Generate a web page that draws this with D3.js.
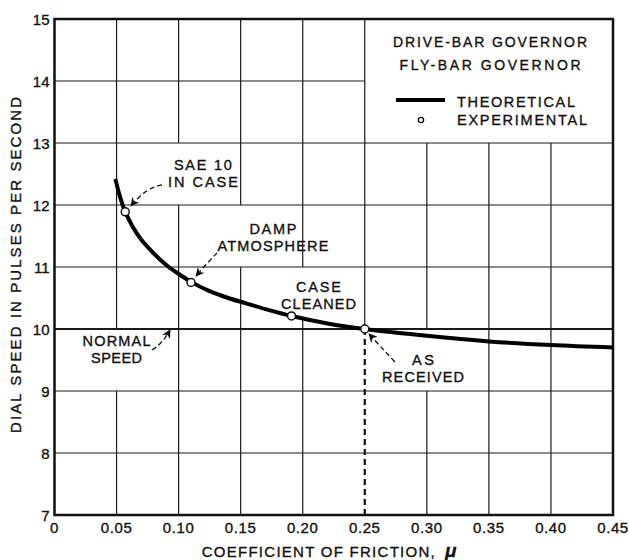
<!DOCTYPE html>
<html>
<head>
<meta charset="utf-8">
<script src="https://cdn.jsdelivr.net/npm/d3@7"></script>
<style>
  html, body { margin: 0; padding: 0; background: #fff; }
  svg { display: block; }
  text { font-family: "Liberation Sans", Arial, sans-serif; fill: #111; stroke: #111; stroke-width: 0.35px; }
</style>
</head>
<body>
<svg id="chart" width="629" height="560"></svg>
<script>
// ---------------- DATA ----------------
const xTickValues = [0, 0.05, 0.10, 0.15, 0.20, 0.25, 0.30, 0.35, 0.40, 0.45];
const xTickLabels = ["0", "0.05", "0.10", "0.15", "0.20", "0.25", "0.30", "0.35", "0.40", "0.45"];
const yTickValues = [7, 8, 9, 10, 11, 12, 13, 14, 15];
const yTickLabels = ["7", "8", "9", "10", "11", "12", "13", "14", "15"];

// Theoretical curve
const muTheory    = [0.049, 0.053, 0.057, 0.063, 0.070, 0.078, 0.085, 0.092, 0.100, 0.110, 0.125, 0.140, 0.155, 0.170, 0.191, 0.220, 0.250, 0.300, 0.350, 0.400, 0.450];
const speedTheory = [12.42, 12.12, 11.89, 11.65, 11.44, 11.26, 11.12, 11.00, 10.89, 10.76, 10.61, 10.50, 10.41, 10.32, 10.21, 10.09, 10.00, 9.89, 9.80, 9.74, 9.70];

// Experimental points
const muExp    = [0.057, 0.110, 0.191, 0.250];
const speedExp = [11.89, 10.75, 10.21, 10.00];

const normalSpeed = 10;
const asReceivedMu = 0.25;

const xTitle = "COEFFICIENT OF FRICTION,";
const xTitleSymbol = "\u03BC";
const yTitle = "DIAL SPEED IN PULSES PER SECOND";
const legendTitles = ["DRIVE-BAR GOVERNOR", "FLY-BAR GOVERNOR"];
const legendSeries = ["THEORETICAL", "EXPERIMENTAL"];

// Annotations (label lines, anchor in data units, arrow from/ctrl/to in data units)
const annotations = [
  { lines: ["SAE 10", "IN CASE"], widths: [58, 70], x: 0.1196, y: 12.565,
    arrow: [[0.0866, 12.323], [0.0729, 12.274], [0.0616, 11.984]] },
  { lines: ["DAMP", "ATMOSPHERE"], widths: [47, 111], x: 0.176, y: 11.532,
    arrow: [[0.1309, 11.226], [0.1237, 11.08], [0.1140, 10.855]] },
  { lines: ["CASE", "CLEANED"], widths: [45, 75], x: 0.2127, y: 10.597,
    arrow: null },
  { lines: ["NORMAL", "SPEED"], widths: [68, 51], x: 0.050, y: 9.726,
    arrow: [[0.0786, 9.661], [0.0874, 9.774], [0.0930, 9.984]] },
  { lines: ["AS", "RECEIVED"], widths: [22, 82], x: 0.2969, y: 9.419,
    arrow: [[0.2743, 9.468], [0.2623, 9.726], [0.2534, 9.919]] }
];

// Grid segments erased by the draughtsman (data units)
const vGaps = [
  { x: 0.05, from: 9, to: 10 },
  { x: 0.10, from: 12, to: 13 },
  { x: 0.15, from: 11, to: 12 },
  { x: 0.20, from: 10.15, to: 11 },
  { x: 0.25, from: 7, to: 10 },   // replaced by dashed line
  { x: 0.30, from: 9, to: 10 },
  { x: 0.30, from: 13, to: 15 },
  { x: 0.35, from: 13, to: 15 },
  { x: 0.40, from: 13, to: 15 }
];
const hGaps = [
  { y: 14, from: 0.25, to: 0.45 }
];

// ---------------- LAYOUT ----------------
const svg = d3.select("#chart");
const margin = { left: 54.5, top: 19, right: 16, bottom: 45 };
const W = 629, H = 560;
const x = d3.scaleLinear().domain([0, 0.45]).range([margin.left, W - margin.right]);
const y = d3.scaleLinear().domain([7, 15]).range([H - margin.bottom, margin.top]);

svg.append("rect").attr("width", W).attr("height", H).attr("fill", "#fff");

function subtract(lo, hi, gaps) {
  let segs = [[lo, hi]];
  gaps.forEach(g => {
    const out = [];
    segs.forEach(([a, b]) => {
      if (g.to <= a || g.from >= b) { out.push([a, b]); return; }
      if (g.from > a) out.push([a, g.from]);
      if (g.to < b) out.push([g.to, b]);
    });
    segs = out;
  });
  return segs;
}

const grid = svg.append("g").attr("stroke", "#1a1a1a").attr("stroke-width", 1.2).attr("fill", "none");
xTickValues.slice(1, -1).forEach(v => {
  const gaps = vGaps.filter(g => Math.abs(g.x - v) < 1e-9);
  subtract(7, 15, gaps).forEach(([a, b]) => {
    grid.append("line").attr("x1", x(v)).attr("x2", x(v)).attr("y1", y(a)).attr("y2", y(b));
  });
});
yTickValues.slice(1, -1).forEach(v => {
  const gaps = hGaps.filter(g => Math.abs(g.y - v) < 1e-9);
  subtract(0, 0.45, gaps).forEach(([a, b]) => {
    grid.append("line").attr("x1", x(a)).attr("x2", x(b)).attr("y1", y(v)).attr("y2", y(v))
      .attr("stroke-width", v === normalSpeed ? 2.2 : 1.2);
  });
});

// Dashed "as received" line
svg.append("line")
  .attr("x1", x(asReceivedMu)).attr("x2", x(asReceivedMu))
  .attr("y1", y(normalSpeed)).attr("y2", y(7))
  .attr("stroke", "#111").attr("stroke-width", 2.2).attr("stroke-dasharray", "6,4");

// Frame
svg.append("rect")
  .attr("x", x(0)).attr("y", y(15))
  .attr("width", x(0.45) - x(0)).attr("height", y(7) - y(15))
  .attr("fill", "none").attr("stroke", "#111").attr("stroke-width", 2.5);

// Tick labels
svg.append("g").selectAll("text").data(xTickValues).join("text")
  .attr("x", d => x(d)).attr("y", y(7) + 18)
  .attr("text-anchor", "middle").attr("font-size", 15).attr("letter-spacing", 0.6)
  .text((d, i) => xTickLabels[i]);
svg.append("g").selectAll("text").data(yTickValues).join("text")
  .attr("x", x(0) - 5).attr("y", d => y(d) + 5.5)
  .attr("text-anchor", "end").attr("font-size", 15)
  .text((d, i) => yTickLabels[i]);

// Axis titles
svg.append("text").attr("x", 201.7).attr("y", 556.5)
  .attr("font-size", 15).attr("textLength", 233).attr("lengthAdjust", "spacing")
  .text(xTitle);
svg.append("text").attr("x", 445).attr("y", 556.5)
  .attr("font-size", 19).attr("font-weight", "bold").attr("font-style", "italic")
  .attr("font-family", "'Liberation Serif', serif")
  .text(xTitleSymbol);
svg.append("text")
  .attr("transform", `translate(21,${(97 + 433) / 2}) rotate(-90)`)
  .attr("text-anchor", "middle").attr("font-size", 15)
  .attr("textLength", 336).attr("lengthAdjust", "spacing")
  .text(yTitle);

// Theoretical curve
const curveData = muTheory.map((m, i) => [m, speedTheory[i]]);
svg.append("path").datum(curveData)
  .attr("fill", "none").attr("stroke", "#000").attr("stroke-width", 4)
  .attr("stroke-linecap", "butt")
  .attr("d", d3.line().x(d => x(d[0])).y(d => y(d[1])).curve(d3.curveCatmullRom.alpha(0.5)));

// Arrow marker
svg.append("defs").append("marker")
  .attr("id", "arrow").attr("viewBox", "0 0 10 10").attr("refX", 9).attr("refY", 5)
  .attr("markerWidth", 9).attr("markerHeight", 9).attr("markerUnits", "userSpaceOnUse")
  .attr("orient", "auto")
  .append("path").attr("d", "M0,0 L10,5 L0,10 L3,5 Z").attr("fill", "#111");

// Annotations
annotations.forEach(a => {
  a.lines.forEach((t, i) => {
    svg.append("text")
      .attr("x", x(a.x)).attr("y", y(a.y) + i * 16.8)
      .attr("text-anchor", "middle").attr("font-size", 14.5)
      .attr("textLength", a.widths[i]).attr("lengthAdjust", "spacing")
      .text(t);
  });
  if (a.arrow) {
    const [p0, c, p1] = a.arrow;
    const path = d3.path();
    path.moveTo(x(p0[0]), y(p0[1]));
    path.quadraticCurveTo(x(c[0]), y(c[1]), x(p1[0]), y(p1[1]));
    svg.append("path").attr("d", path.toString())
      .attr("fill", "none").attr("stroke", "#111").attr("stroke-width", 1.3)
      .attr("stroke-dasharray", "5,3").attr("marker-end", "url(#arrow)");
  }
});

// Experimental points
svg.append("g").selectAll("circle").data(muExp).join("circle")
  .attr("cx", d => x(d)).attr("cy", (d, i) => y(speedExp[i])).attr("r", 4)
  .attr("fill", "#fff").attr("stroke", "#111").attr("stroke-width", 1.5);

// Legend
const lg = svg.append("g");
const legCx = 490;
legendTitles.forEach((t, i) => {
  lg.append("text").attr("x", legCx).attr("y", 47 + i * 23)
    .attr("text-anchor", "middle").attr("font-size", 14)
    .attr("textLength", i === 0 ? 194 : 181).attr("lengthAdjust", "spacing")
    .text(t);
});
lg.append("line").attr("x1", 396).attr("x2", 445).attr("y1", 100).attr("y2", 100)
  .attr("stroke", "#000").attr("stroke-width", 4);
lg.append("circle").attr("cx", 421).attr("cy", 120).attr("r", 2.6)
  .attr("fill", "#fff").attr("stroke", "#111").attr("stroke-width", 1.4);
legendSeries.forEach((t, i) => {
  lg.append("text").attr("x", 457).attr("y", 107 + i * 18)
    .attr("font-size", 14.5)
    .attr("textLength", i === 0 ? 118 : 130).attr("lengthAdjust", "spacing")
    .text(t);
});
</script>
</body>
</html>
